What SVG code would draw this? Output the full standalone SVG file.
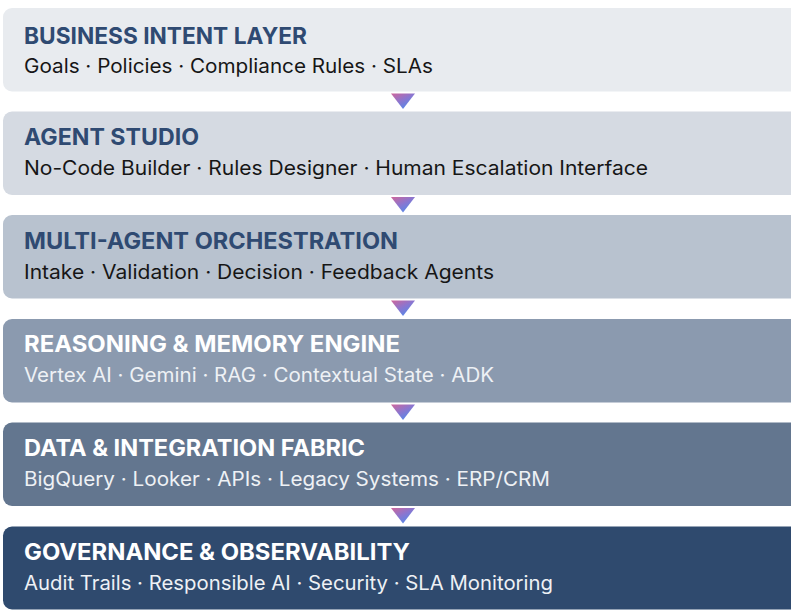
<svg xmlns="http://www.w3.org/2000/svg" width="791" height="611" viewBox="0 0 791 611">
  <defs>
    <linearGradient id="arrowGrad" x1="0" y1="0" x2="0.8" y2="1">
      <stop offset="0" stop-color="#d0669a"/>
      <stop offset="0.5" stop-color="#8a76d0"/>
      <stop offset="1" stop-color="#4a8cec"/>
    </linearGradient>
    <style>
      .box { stroke: none; }
      .title { font-family: Inter, "Liberation Sans", sans-serif; font-size: 23px; font-weight: 700; }
      .sub { font-family: Inter, "Liberation Sans", sans-serif; font-size: 19.5px; font-weight: 400; }
      .dark .title { fill: #2f4a72; }
      .dark .sub { fill: #161616; }
      .light .title { fill: #ffffff; }
      .light .sub { fill: #eef1f5; }
      .arrow { fill: url(#arrowGrad); }
    </style>
  </defs>

  <g id="layer-business-intent" class="dark">
    <rect class="box" x="3" y="8" width="800" height="83.5" rx="9" fill="#e8ebef"/>
    <text class="title" x="24" y="43.5" textLength="283" lengthAdjust="spacingAndGlyphs">BUSINESS INTENT LAYER</text>
    <text class="sub" x="24" y="73" textLength="409" lengthAdjust="spacingAndGlyphs">Goals · Policies · Compliance Rules · SLAs</text>
  </g>

  <g id="layer-agent-studio" class="dark">
    <rect class="box" x="3" y="111.5" width="800" height="83.5" rx="9" fill="#d5dae2"/>
    <text class="title" x="24" y="145" textLength="175" lengthAdjust="spacingAndGlyphs">AGENT STUDIO</text>
    <text class="sub" x="24" y="175" textLength="624" lengthAdjust="spacingAndGlyphs">No-Code Builder · Rules Designer · Human Escalation Interface</text>
  </g>

  <g id="layer-orchestration" class="dark">
    <rect class="box" x="3" y="215" width="800" height="83.5" rx="9" fill="#b8c2cf"/>
    <text class="title" x="24" y="248.5" textLength="374" lengthAdjust="spacingAndGlyphs">MULTI-AGENT ORCHESTRATION</text>
    <text class="sub" x="24" y="278.5" textLength="470" lengthAdjust="spacingAndGlyphs">Intake · Validation · Decision · Feedback Agents</text>
  </g>

  <g id="layer-reasoning" class="light">
    <rect class="box" x="3" y="319" width="800" height="83.5" rx="9" fill="#8b9aaf"/>
    <text class="title" x="24" y="352" textLength="376" lengthAdjust="spacingAndGlyphs">REASONING &amp; MEMORY ENGINE</text>
    <text class="sub" x="24" y="382" textLength="470" lengthAdjust="spacingAndGlyphs">Vertex AI · Gemini · RAG · Contextual State · ADK</text>
  </g>

  <g id="layer-data" class="light">
    <rect class="box" x="3" y="422.5" width="800" height="83.5" rx="9" fill="#63768f"/>
    <text class="title" x="24" y="456" textLength="341" lengthAdjust="spacingAndGlyphs">DATA &amp; INTEGRATION FABRIC</text>
    <text class="sub" x="24" y="485.5" textLength="526" lengthAdjust="spacingAndGlyphs">BigQuery · Looker · APIs · Legacy Systems · ERP/CRM</text>
  </g>

  <g id="layer-governance" class="light">
    <rect class="box" x="3" y="526.5" width="800" height="83" rx="9" fill="#2f4a6e"/>
    <text class="title" x="24" y="560" textLength="386" lengthAdjust="spacingAndGlyphs">GOVERNANCE &amp; OBSERVABILITY</text>
    <text class="sub" x="24" y="590" textLength="529" lengthAdjust="spacingAndGlyphs">Audit Trails · Responsible AI · Security · SLA Monitoring</text>
  </g>

  <g id="connectors">
    <polygon class="arrow" points="391,93.5 415,93.5 403,109"/>
    <polygon class="arrow" points="391,197 415,197 403,212.5"/>
    <polygon class="arrow" points="391,300.5 415,300.5 403,316"/>
    <polygon class="arrow" points="391,404.5 415,404.5 403,420"/>
    <polygon class="arrow" points="391,508 415,508 403,523.5"/>
  </g>
</svg>
